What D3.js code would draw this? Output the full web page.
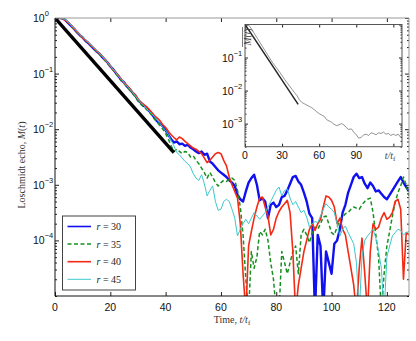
<!DOCTYPE html>
<html>
<head>
<meta charset="utf-8">
<script src="https://cdnjs.cloudflare.com/ajax/libs/d3/7.8.5/d3.min.js"></script>
<style>
  body { margin: 0; background: #fff; }
  svg { display: block; }
</style>
</head>
<body>
<script>
// time grid t/t_f (one sample per unit)
var timeGrid = d3.range(0, 129);

// log10 of the Loschmidt echo M(t), t = 0..128
var r30 = [
  0, 0, 0, -0.01, -0.05, -0.10, -0.15, -0.20, -0.26, -0.31,
  -0.35, -0.41, -0.45, -0.50, -0.55, -0.60, -0.64, -0.70, -0.75, -0.80,
  -0.87, -0.92, -0.99, -1.05, -1.12, -1.16, -1.23, -1.28, -1.34, -1.39,
  -1.48, -1.52, -1.58, -1.60, -1.67, -1.72, -1.80, -1.86, -1.90, -1.95,
  -2.02, -2.10, -2.18,
  -2.24, -2.22, -2.27, -2.26, -2.30, -2.28, -2.33, -2.36, -2.40, -2.43,
  -2.40, -2.46, -2.44, -2.58, -2.62, -2.68, -2.74, -2.78, -2.82, -2.86,
  -2.92, -2.96, -3.02, -3.18, -3.26, -3.30, -3.12, -2.96, -2.88, -2.82,
  -3.00, -3.28, -3.24, -3.30, -3.60, -3.36, -3.32, -3.40, -3.36, -3.22,
  -3.20, -3.10, -2.98, -2.86, -2.84, -2.94, -3.00, -3.14, -3.30, -3.52,
  -3.60, -5.30, -3.90, -4.10, -5.30, -4.20, -4.40, -4.60, -4.06, -4.00,
  -3.80, -3.50, -3.36, -3.14, -3.00, -2.86, -2.80, -2.88, -2.86, -2.98,
  -3.06, -2.96, -3.02, -3.12, -3.10, -3.16, -3.22, -3.26, -3.18, -3.10,
  -3.02, -2.94, -2.86, -2.96, -3.04, -3.12
];
var r35 = [
  0, 0, 0, -0.01, -0.04, -0.09, -0.15, -0.21, -0.26, -0.31,
  -0.36, -0.40, -0.45, -0.50, -0.55, -0.60, -0.65, -0.70, -0.76, -0.82,
  -0.88, -0.94, -1.00, -1.07, -1.13, -1.18, -1.24, -1.30, -1.36, -1.42,
  -1.49, -1.55, -1.60, -1.64, -1.69, -1.75, -1.82, -1.88, -1.94, -2.00,
  -2.08, -2.18, -2.30,
  -2.40, -2.36, -2.40, -2.44, -2.40, -2.42, -2.50, -2.48, -2.56, -2.62,
  -2.70, -2.78, -2.88, -2.78, -2.86, -2.96, -3.02, -2.96, -2.92, -2.94,
  -2.90, -2.88, -2.92, -3.10, -3.40, -3.90, -4.70, -5.30, -4.20, -4.50,
  -4.30, -3.84, -3.90, -3.80, -4.00, -4.40, -4.70, -5.30, -5.30, -4.20,
  -4.40, -4.60, -4.40, -4.20, -4.10, -4.60, -3.90, -3.80, -3.90, -4.04,
  -3.86, -3.76, -3.80, -3.70, -3.58, -3.56, -3.70, -3.86, -3.90, -3.76,
  -3.62, -3.58, -3.52, -3.50, -3.44, -3.40, -3.42, -3.44, -3.36, -3.30,
  -3.26, -3.24, -3.50, -3.90, -4.30, -5.30, -4.60, -4.10, -3.84, -3.56,
  -3.32, -3.14, -3.02, -2.86, -3.00, -3.20
];
var r40 = [
  0, 0, 0, -0.02, -0.05, -0.09, -0.14, -0.20, -0.25, -0.30,
  -0.36, -0.40, -0.44, -0.49, -0.54, -0.59, -0.63, -0.68, -0.74, -0.80,
  -0.86, -0.93, -0.98, -1.04, -1.10, -1.17, -1.21, -1.27, -1.33, -1.38,
  -1.45, -1.52, -1.55, -1.60, -1.64, -1.70, -1.76, -1.80, -1.85, -1.92,
  -1.97, -2.04, -2.10,
  -2.15, -2.19, -2.14, -2.17, -2.22, -2.26, -2.30, -2.34, -2.36, -2.40,
  -2.44, -2.52, -2.60, -2.56, -2.50, -2.44, -2.42, -2.44, -2.56, -2.66,
  -2.86, -3.00, -3.12, -3.24, -3.70, -4.60, -5.30, -4.10, -3.84, -3.60,
  -3.40, -3.24, -3.22, -3.40, -3.56, -3.90, -3.80, -3.60, -3.48, -3.40,
  -3.34, -3.28, -3.50, -4.20, -5.30, -4.80, -4.50, -4.20, -4.00, -3.80,
  -3.70, -3.82, -3.70, -3.62, -3.40, -3.20, -3.22, -3.28, -3.40, -3.70,
  -3.60, -3.80, -3.90, -4.20, -4.50, -4.80, -5.30, -4.50, -3.96, -4.60,
  -5.30, -4.20, -3.70, -3.80, -3.76, -3.60, -3.50, -3.62, -3.58, -3.50,
  -3.30, -3.26, -3.44, -4.70, -3.86, -3.90
];
var r45 = [
  0, 0, 0, -0.01, -0.04, -0.08, -0.14, -0.19, -0.24, -0.30,
  -0.34, -0.39, -0.44, -0.48, -0.53, -0.58, -0.63, -0.68, -0.74, -0.80,
  -0.86, -0.92, -0.98, -1.05, -1.10, -1.16, -1.22, -1.28, -1.33, -1.40,
  -1.46, -1.52, -1.57, -1.62, -1.68, -1.72, -1.78, -1.84, -1.90, -1.97,
  -2.02, -2.10, -2.20,
  -2.30, -2.42, -2.46, -2.52, -2.58, -2.62, -2.68, -2.80, -2.88, -2.92,
  -2.82, -2.98, -3.20, -3.10, -3.02, -3.30, -3.46, -3.44, -3.30, -3.26,
  -3.30, -3.44, -3.60, -3.92, -3.80, -3.70, -3.62, -3.70, -3.60, -3.50,
  -3.56, -3.62, -3.56, -3.50, -3.40, -3.30, -3.20, -3.10, -3.04, -3.20,
  -3.10, -3.08, -3.24, -3.36, -3.30, -3.40, -3.50, -3.46, -3.58, -3.76,
  -3.70, -3.66, -3.68, -3.56, -3.44, -3.34, -3.40, -3.44, -3.50, -3.70,
  -3.92, -3.80, -3.74, -3.86, -3.96, -4.06, -4.40, -5.30, -4.30, -4.00,
  -3.92, -3.86, -3.80, -3.96, -4.20, -4.50, -5.30, -4.30, -4.10, -3.92,
  -3.86, -3.80, -3.82, -3.90, -3.86, -3.84
];

// fitted exponential decay (thick black line)
var fitTime = [0, 43];
var fitEcho = [1, 0.0038];

// inset: averaged echo, log10 values at t = 0, 2, ..., 126
var insetTime = d3.range(0, 127, 2);
var insetMean = [
  0, 0, -0.06, -0.18, -0.30, -0.42, -0.54, -0.66, -0.78, -0.90,
  -1.02, -1.14, -1.24, -1.34, -1.44, -1.55, -1.66, -1.76, -1.86, -1.96,
  -2.06, -2.15, -2.28, -2.36, -2.40, -2.44, -2.48, -2.52, -2.58, -2.64,
  -2.70, -2.74, -2.78, -2.88, -2.92, -2.96, -3.02, -3.06, -3.04, -3.00,
  -3.04, -3.12, -3.18, -3.16, -3.26, -3.34, -3.44, -3.42, -3.34, -3.32,
  -3.36, -3.28, -3.30, -3.34, -3.28, -3.30, -3.26, -3.32, -3.30, -3.36,
  -3.32, -3.36, -3.32, -3.42
];

var seriesNames = ['30', '35', '40', '45'];
var xTicks = [0, 20, 40, 60, 80, 100, 120];
var yTickExps = [0, -1, -2, -3, -4];
var insetXTicks = [0, 30, 60, 90];
var insetYTickExps = [-1, -2, -3];

var W = 416, H = 341;
var svg = d3.select('body').append('svg').attr('width', W).attr('height', H);

var L = 55, R = 409, T = 18, B = 296;
var x = d3.scaleLinear().domain([0, 128]).range([L, R]);
var y = d3.scaleLog().domain([1e-5, 1]).range([B, T]);

var series = [
  { name: seriesNames[0], vals: r30, color: '#1010f0', width: 2.4, dash: null },
  { name: seriesNames[1], vals: r35, color: '#17901f', width: 1.5, dash: '4,2.5' },
  { name: seriesNames[2], vals: r40, color: '#f42a14', width: 1.6, dash: null },
  { name: seriesNames[3], vals: r45, color: '#3cc8cc', width: 1.0, dash: null }
];

svg.append('clipPath').attr('id', 'mainclip')
  .append('rect').attr('x', L).attr('y', T).attr('width', R - L).attr('height', B - T);

var line = d3.line()
  .x(function(d) { return x(d[0]); })
  .y(function(d) { return y(d[1]); });

var plot = svg.append('g').attr('clip-path', 'url(#mainclip)');
series.forEach(function(s) {
  var pts = timeGrid.map(function(t, i) { return [t, Math.pow(10, s.vals[i])]; });
  plot.append('path')
    .datum(pts)
    .attr('d', line)
    .attr('fill', 'none')
    .attr('stroke', s.color)
    .attr('stroke-width', s.width)
    .attr('stroke-dasharray', s.dash)
    .attr('stroke-linejoin', 'round');
});
plot.append('path')
  .datum(fitTime.map(function(t, i) { return [t, fitEcho[i]]; }))
  .attr('d', line)
  .attr('fill', 'none')
  .attr('stroke', '#000')
  .attr('stroke-width', 3.4);

// ticks (inward)
function noDomain(g) { g.select('.domain').remove(); g.selectAll('line').attr('stroke', '#222'); }
var majorY = yTickExps.map(function(e) { return Math.pow(10, e); });
var minorY = y.ticks().filter(function(v) { return majorY.indexOf(v) < 0; });

svg.append('g').attr('transform', 'translate(0,' + B + ')')
  .call(d3.axisBottom(x).tickValues(xTicks).tickSize(-4).tickFormat('')).call(noDomain);
svg.append('g').attr('transform', 'translate(0,' + T + ')')
  .call(d3.axisTop(x).tickValues(xTicks).tickSize(-4).tickFormat('')).call(noDomain);
[[d3.axisLeft, L], [d3.axisRight, R]].forEach(function(a) {
  svg.append('g').attr('transform', 'translate(' + a[1] + ',0)')
    .call(a[0](y).tickValues(majorY).tickSize(-4).tickFormat('')).call(noDomain);
  svg.append('g').attr('transform', 'translate(' + a[1] + ',0)')
    .call(a[0](y).tickValues(minorY).tickSize(-2).tickFormat('')).call(noDomain);
});

// frame
svg.append('line').attr('x1', L).attr('x2', R).attr('y1', T).attr('y2', T).attr('stroke', '#999');
svg.append('line').attr('x1', R).attr('x2', R).attr('y1', T).attr('y2', B).attr('stroke', '#999');
svg.append('line').attr('x1', L).attr('x2', L).attr('y1', T).attr('y2', B).attr('stroke', '#111');
svg.append('line').attr('x1', L).attr('x2', R).attr('y1', B).attr('y2', B).attr('stroke', '#111');

var sans = 'Liberation Sans, Arial, sans-serif';
var serif = 'Liberation Serif, Times New Roman, serif';

function powLabel(g, px, py, e) {
  var t = g.append('text').attr('x', px).attr('y', py)
    .attr('font-family', sans).attr('font-size', 10.5).attr('fill', '#111');
  t.append('tspan').text('10');
  t.append('tspan').attr('dy', -6).attr('font-size', 7.5)
    .text(e === 0 ? '0' : '\u2212' + (-e));
}

yTickExps.forEach(function(e) { powLabel(svg, 33, y(Math.pow(10, e)) + 4, e); });
svg.selectAll('.xlab').data(xTicks).enter().append('text')
  .attr('x', function(d) { return x(d); }).attr('y', 310.5)
  .attr('text-anchor', 'middle').attr('font-family', sans).attr('font-size', 10.5)
  .attr('fill', '#111').text(function(d) { return d; });

// axis titles
var xt = svg.append('text').attr('x', (L + R) / 2).attr('y', 323)
  .attr('text-anchor', 'middle').attr('font-family', serif).attr('font-size', 10).attr('fill', '#333');
xt.append('tspan').text('Time, ');
xt.append('tspan').attr('font-style', 'italic').text('t/t');
xt.append('tspan').attr('dy', 2).attr('font-size', 7).text('f');

var yt = svg.append('text').attr('transform', 'translate(25,165) rotate(-90)')
  .attr('text-anchor', 'middle').attr('font-family', serif).attr('font-size', 10).attr('fill', '#333');
yt.append('tspan').text('Loschmidt echo, ');
yt.append('tspan').attr('font-style', 'italic').text('M');
yt.append('tspan').text('(');
yt.append('tspan').attr('font-style', 'italic').text('t');
yt.append('tspan').text(')');

// legend
var lg = svg.append('g');
lg.append('rect').attr('x', 62.5).attr('y', 216).attr('width', 73).attr('height', 74)
  .attr('fill', '#fff').attr('stroke', '#444').attr('stroke-width', 1);
series.forEach(function(s, i) {
  var ly = 226.5 + i * 17.6;
  lg.append('line').attr('x1', 67.5).attr('x2', 91).attr('y1', ly).attr('y2', ly)
    .attr('stroke', s.color).attr('stroke-width', Math.min(s.width, 1.6)).attr('stroke-dasharray', s.dash);
  var tx = lg.append('text').attr('x', 96.5).attr('y', ly + 3.5)
    .attr('font-family', serif).attr('font-size', 10).attr('fill', '#222');
  tx.append('tspan').attr('font-style', 'italic').text('r');
  tx.append('tspan').text(' = ' + s.name);
});

// inset
var iL = 245, iR = 402, iT = 24.5, iB = 146.7;
var xi = d3.scaleLinear().domain([0, 127]).range([iL, iR]);
var yi = d3.scaleLog().domain([Math.pow(10, -3.7), 1]).range([iB, iT]);
var ins = svg.append('g');
ins.append('rect').attr('x', iL).attr('y', iT).attr('width', iR - iL).attr('height', iB - iT)
  .attr('fill', '#fff');
svg.append('clipPath').attr('id', 'insetclip')
  .append('rect').attr('x', iL).attr('y', iT).attr('width', iR - iL).attr('height', iB - iT);
var iline = d3.line()
  .x(function(d) { return xi(d[0]); })
  .y(function(d) { return yi(d[1]); });
var ip = ins.append('g').attr('clip-path', 'url(#insetclip)');
ip.append('path')
  .datum(insetTime.map(function(t, i) { return [t, Math.pow(10, insetMean[i])]; }))
  .attr('d', iline).attr('fill', 'none').attr('stroke', '#777').attr('stroke-width', 0.8);
ip.append('path')
  .datum(fitTime.map(function(t, i) { return [t, fitEcho[i]]; }))
  .attr('d', iline).attr('fill', 'none').attr('stroke', '#222').attr('stroke-width', 1.4);

var iMajorY = [1, 0.1, 0.01, 0.001];
var iMinorY = yi.ticks().filter(function(v) { return iMajorY.indexOf(v) < 0; });
ins.append('g').attr('transform', 'translate(0,' + iB + ')')
  .call(d3.axisBottom(xi).tickValues(insetXTicks.concat([120])).tickSize(-3).tickFormat('')).call(noDomain);
ins.append('g').attr('transform', 'translate(0,' + iT + ')')
  .call(d3.axisTop(xi).tickValues(insetXTicks.concat([120])).tickSize(-3).tickFormat('')).call(noDomain);
[[d3.axisLeft, iL], [d3.axisRight, iR]].forEach(function(a) {
  ins.append('g').attr('transform', 'translate(' + a[1] + ',0)')
    .call(a[0](yi).tickValues(iMajorY).tickSize(-3).tickFormat('')).call(noDomain);
  ins.append('g').attr('transform', 'translate(' + a[1] + ',0)')
    .call(a[0](yi).tickValues(iMinorY).tickSize(-1.5).tickFormat('')).call(noDomain);
});
ins.append('rect').attr('x', iL).attr('y', iT).attr('width', iR - iL).attr('height', iB - iT)
  .attr('fill', 'none').attr('stroke', '#555').attr('stroke-width', 1);

insetYTickExps.forEach(function(e) { powLabel(ins, 222, yi(Math.pow(10, e)) + 4, e); });
ins.selectAll('.ixlab').data(insetXTicks).enter().append('text')
  .attr('x', function(d) { return xi(d); }).attr('y', 159)
  .attr('text-anchor', 'middle').attr('font-family', sans).attr('font-size', 10.5)
  .attr('fill', '#111').text(function(d) { return d; });
var ixt = ins.append('text').attr('x', 390).attr('y', 159).attr('text-anchor', 'middle')
  .attr('font-family', serif).attr('font-size', 10).attr('fill', '#444');
ixt.append('tspan').attr('font-style', 'italic').text('t/t');
ixt.append('tspan').attr('dy', 2).attr('font-size', 7).text('f');

// inset y title: overlined M(t)
var iyt = ins.append('g').attr('transform', 'translate(251,37) rotate(-90)');
var iyText = iyt.append('text').attr('text-anchor', 'middle')
  .attr('font-family', serif).attr('font-size', 9.5).attr('fill', '#444');
iyText.append('tspan').attr('font-style', 'italic').text('M');
iyText.append('tspan').text('(');
iyText.append('tspan').attr('font-style', 'italic').text('t');
iyText.append('tspan').text(')');
iyt.append('line').attr('x1', -10).attr('x2', 10).attr('y1', -8.5).attr('y2', -8.5)
  .attr('stroke', '#444').attr('stroke-width', 0.7);
</script>
</body>
</html>
